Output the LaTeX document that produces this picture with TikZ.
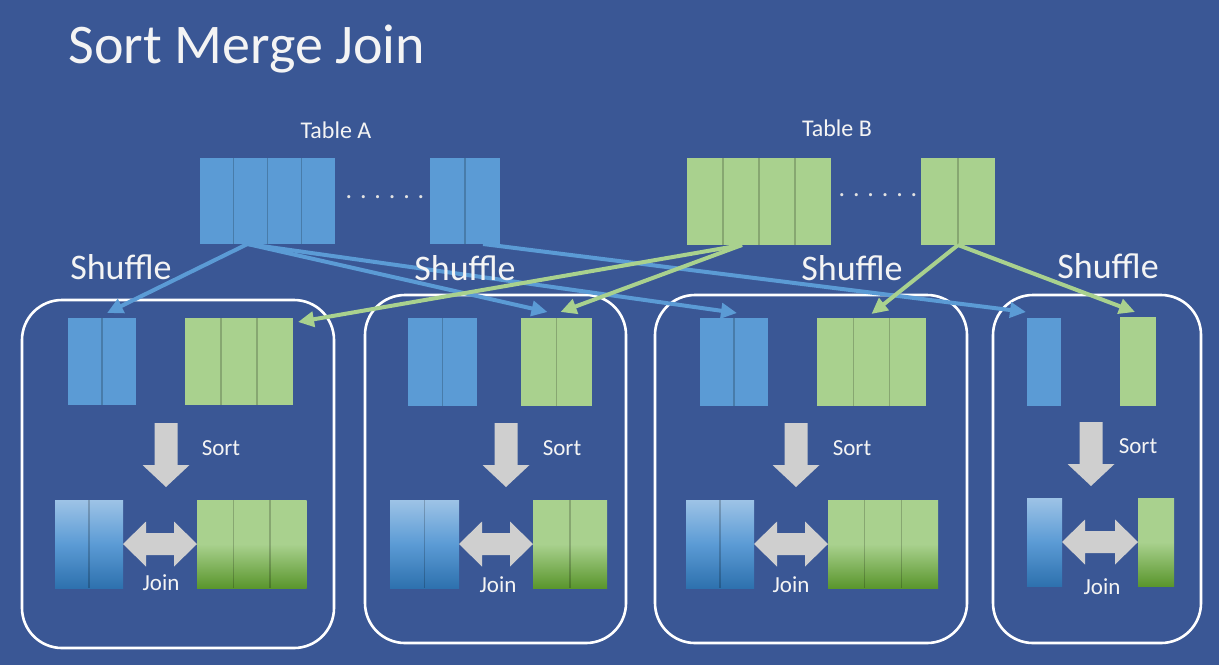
\documentclass[tikz,border=0pt]{standalone}
\usepackage{fontspec}
\setmainfont{Carlito}
\usetikzlibrary{arrows.meta,calc}

\definecolor{hgblau}{HTML}{3A5795}
\definecolor{blockblau}{HTML}{5B9BD5}
\definecolor{blockgruen}{HTML}{A9D18E}
\definecolor{pfeilgrau}{HTML}{CFCFCF}
\definecolor{textweiss}{HTML}{F4F4F4}
\definecolor{sortblauhell}{HTML}{9DC3E6}
\definecolor{sortblaudunkel}{HTML}{2E71AE}
\definecolor{sortgruendunkel}{HTML}{5A962D}

\tikzset{
  blockbasis/.style={draw=none, inner sep=0pt, outer sep=0pt, anchor=north west},
  blau/.style={blockbasis, fill=blockblau},
  gruen/.style={blockbasis, fill=blockgruen},
  blausort/.style={blockbasis, top color=sortblauhell, bottom color=sortblaudunkel, middle color=blockblau},
  gruensort/.style={blockbasis, top color=blockgruen, bottom color=sortgruendunkel, middle color=blockgruen},
  trenn/.style={draw=black, draw opacity=0.2, line width=0.6pt},
  partition/.style={draw=white, line width=1.3pt, rounded corners=20pt},
  shufflea/.style={draw=blockblau, line width=2pt, -{Triangle[length=8pt,width=7.5pt]}},
  shuffleb/.style={draw=blockgruen, line width=2pt, -{Triangle[length=8pt,width=7.5pt]}},
  weiss/.style={text=textweiss, inner sep=0pt},
  titel/.style={weiss, anchor=base west, font=\fontsize{28}{34}\selectfont},
  tabtext/.style={weiss, font=\fontsize{12}{14}\selectfont},
  shuffletext/.style={weiss, font=\fontsize{18}{22}\selectfont},
  klein/.style={weiss, font=\fontsize{11.5}{14}\selectfont},
  punkte/.style={text=textweiss!85!gray, inner sep=0pt, font=\fontsize{13}{15}\selectfont}
}

% Block aus Spalten: Name, Stil, links, oben, Spalten, Spaltenbreite, Hoehe (px)
\newcommand{\bloecke}[7]{%
  \node[#2, minimum width=#5*#6*0.5pt, minimum height=#7*0.5pt] (#1) at (#3,#4) {};
  \ifnum#5>1
    \foreach \k in {2,...,#5}
      \draw[trenn] ($(#1.north west)+({(\k-1)*#6},0)$) -- ($(#1.south west)+({(\k-1)*#6},0)$);
  \fi
}

% Sortierpfeil: Mitte x, oben y
\newcommand{\sortpfeil}[2]{%
  \fill[pfeilgrau] ({#1-11.5},#2) -- ({#1+11.5},#2) -- ({#1+11.5},{#2+42}) --
    ({#1+23.5},{#2+42}) -- (#1,{#2+64}) -- ({#1-23.5},{#2+42}) --
    ({#1-11.5},{#2+42}) -- cycle;
}

% Join-Doppelpfeil zwischen zwei Bloecken
\newcommand{\joinpfeil}[2]{%
  \fill[pfeilgrau] (#1.east) -- ($(#1.east)+(23,-22.5)$) -- ($(#1.east)+(23,-11)$) --
    ($(#2.west)+(-23,-11)$) -- ($(#2.west)+(-23,-22.5)$) -- (#2.west) --
    ($(#2.west)+(-23,22.5)$) -- ($(#2.west)+(-23,11)$) --
    ($(#1.east)+(23,11)$) -- ($(#1.east)+(23,22.5)$) -- cycle;
}

\begin{document}
\begin{tikzpicture}[x=0.5pt, y=-0.5pt]

  % Hintergrund
  \fill[hgblau] (0,0) rectangle (1219,665);
  \useasboundingbox (0,0) rectangle (1219,665);

  % Titel
  \node[titel] (titel) at (68,63) {Sort Merge Join};

  % Tabelle A
  \node[tabtext] (tabA) at (336,130) {Table A};
  \bloecke{ta1}{blau}{200}{158}{4}{33.75}{86}
  \node[punkte] (pA) at (385,197) {. . . . . .};
  \bloecke{ta2}{blau}{430}{158}{2}{35}{86}

  % Tabelle B
  \node[tabtext] (tabB) at (837,128) {Table B};
  \bloecke{tb1}{gruen}{687}{158}{4}{36}{87}
  \node[punkte] (pB) at (878,195) {. . . . . .};
  \bloecke{tb2}{gruen}{921}{158}{2}{37}{87}

  % Partitionen
  \draw[partition] (22,300) rectangle (334,648);
  \draw[partition] (365,295) rectangle (626,643);
  \draw[partition] (655,295) rectangle (967,643);
  \draw[partition] (993,295) rectangle (1201,643);

  % Partition 1
  \bloecke{p1a}{blau}{68}{318}{2}{34}{87}
  \bloecke{p1b}{gruen}{185}{318}{3}{36}{87}
  \bloecke{p1c}{blausort}{55}{500}{2}{34}{88}
  \bloecke{p1d}{gruensort}{197}{500}{3}{36.5}{88}
  \sortpfeil{166}{423}
  \joinpfeil{p1c}{p1d}

  % Partition 2
  \bloecke{p2a}{blau}{408}{318}{2}{34.5}{88}
  \bloecke{p2b}{gruen}{521}{318}{2}{35.5}{88}
  \bloecke{p2c}{blausort}{390}{500}{2}{34.5}{88}
  \bloecke{p2d}{gruensort}{533}{500}{2}{37}{88}
  \sortpfeil{506}{423}
  \joinpfeil{p2c}{p2d}

  % Partition 3
  \bloecke{p3a}{blau}{700}{318}{2}{34}{88}
  \bloecke{p3b}{gruen}{817}{318}{3}{36.3}{88}
  \bloecke{p3c}{blausort}{686}{500}{2}{34}{88}
  \bloecke{p3d}{gruensort}{828}{500}{3}{36.7}{88}
  \sortpfeil{796}{423}
  \joinpfeil{p3c}{p3d}

  % Partition 4
  \bloecke{p4a}{blau}{1027}{318}{1}{34}{88}
  \bloecke{p4b}{gruen}{1120}{317}{1}{36}{89}
  \bloecke{p4c}{blausort}{1027}{498}{1}{35}{88}
  \bloecke{p4d}{gruensort}{1138}{498}{1}{36}{88}
  \sortpfeil{1091}{422}
  \joinpfeil{p4c}{p4d}

  % Shuffle-Pfeile
  \coordinate (qA1) at ($(ta1.south)+(-20,0)$);
  \coordinate (qA2) at ($(ta2.south)+(18,0)$);
  \coordinate (qB1) at ($(tb1.south)+(-17,0)$);
  \coordinate (qB2) at (tb2.south);
  \draw[shufflea] (qA1) -- ($(p1a.north)+(5,-5)$);
  \draw[shufflea] (qA1) -- ($(p2b.north)+(-9,-6)$);
  \draw[shufflea] (qA1) -- ($(p3a.north)+(3,-5)$);
  \draw[shufflea] (qA2) -- ($(p4a.north west)+(-1,-6)$);
  \draw[shuffleb] (qB1) -- ($(p1b.north east)+(5,4)$);
  \draw[shuffleb] (qB1) -- ($(p2b.north)+(4,-6)$);
  \draw[shuffleb] (qB2) -- ($(p3b.north)+(0,-4)$);
  \draw[shuffleb] (qB2) -- ($(p4b.north)+(-3,-5)$);

  % Beschriftungen
  \node[shuffletext] (sh1) at (121,267) {Shuffle};
  \node[shuffletext] (sh2) at (465,268) {Shuffle};
  \node[shuffletext] (sh3) at (852,268) {Shuffle};
  \node[shuffletext] (sh4) at (1108,266) {Shuffle};

  \node[klein] (so1) at (221,448) {Sort};
  \node[klein] (so2) at (562,448) {Sort};
  \node[klein] (so3) at (852,448) {Sort};
  \node[klein] (so4) at (1138,446) {Sort};

  \node[klein] (jo1) at (161,583) {Join};
  \node[klein] (jo2) at (498,585) {Join};
  \node[klein] (jo3) at (791,585) {Join};
  \node[klein] (jo4) at (1102,587) {Join};

\end{tikzpicture}
\end{document}
